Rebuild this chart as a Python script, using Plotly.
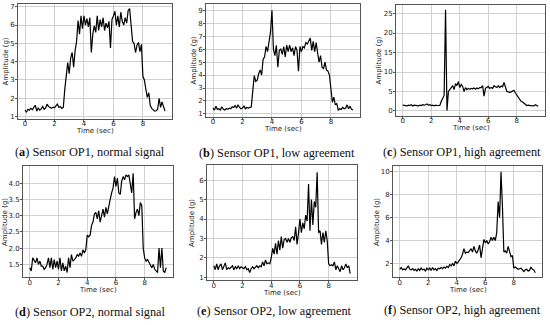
import numpy as np
import plotly.graph_objects as go

time_sec = np.round(np.arange(96) * 0.1, 1)

op1_normal = [1.35, 1.25, 1.40, 1.35, 1.45, 1.38, 1.50, 1.62, 1.30, 1.48,
              1.35, 1.42, 1.55, 1.40, 1.48, 1.68, 1.55, 1.50, 1.45, 1.52,
              1.48, 1.58, 1.68, 1.50, 1.55, 1.45, 1.50, 2.50, 3.30, 3.95,
              3.35, 4.20, 4.50, 3.70, 4.60, 5.10, 6.25, 5.50, 6.50, 5.80,
              6.50, 6.00, 6.35, 5.90, 6.40, 4.50, 5.50, 5.95, 5.60, 6.50,
              5.70, 6.30, 5.90, 6.40, 5.70, 6.10, 5.85, 6.20, 4.75, 6.30,
              6.50, 6.75, 6.00, 6.50, 5.90, 6.70, 6.20, 6.00, 6.40, 6.10,
              6.80, 6.90, 6.00, 5.10, 5.00, 4.50, 4.90, 5.05, 4.55, 4.95,
              3.20, 3.00, 2.50, 2.05, 2.30, 1.60, 1.45, 1.35, 1.30, 1.32,
              1.40, 2.00, 1.50, 1.80, 1.50, 1.30]

op1_low = [1.45, 1.30, 1.60, 1.35, 1.40, 1.30, 1.55, 1.35, 1.30, 1.40,
           1.35, 1.45, 1.40, 1.55, 1.50, 1.65, 1.45, 1.70, 1.50, 1.40,
           1.45, 1.60, 1.40, 1.50, 1.45, 1.50, 1.55, 2.80, 3.95, 3.50,
           3.60, 4.10, 4.40, 4.00, 5.20, 5.40, 6.20, 5.80, 6.80, 7.30,
           9.00, 6.00, 5.50, 6.30, 4.60, 5.90, 6.00, 5.60, 6.20, 5.40,
           6.30, 5.80, 6.30, 5.80, 6.10, 5.50, 6.20, 5.90, 4.30, 6.20,
           5.80, 6.20, 6.10, 6.50, 6.40, 6.60, 6.85, 5.90, 6.60, 5.80,
           6.50, 5.70, 5.00, 5.50, 4.60, 4.50, 5.00, 4.40, 4.30, 4.00,
           3.00, 1.90, 2.30, 1.70, 1.80, 1.30, 1.40, 1.35, 1.50, 1.40,
           1.45, 1.70, 1.40, 1.60, 1.35, 1.30]

op1_high = [1.5, 1.4, 1.5, 1.3, 1.5, 1.4, 1.6, 1.3, 1.5, 1.4,
            1.5, 1.3, 1.5, 1.4, 1.6, 1.5, 1.6, 1.8, 1.5, 1.6,
            1.4, 1.5, 1.3, 1.5, 1.4, 1.5, 1.4, 2.5, 3.5, 4.0,
            26.0, 0.1, 5.0, 5.5, 6.0, 6.5, 5.5, 7.0, 6.5, 7.5,
            6.0, 6.8, 6.3, 5.0, 6.0, 5.5, 5.8, 5.6, 5.8, 5.7,
            5.9, 5.6, 5.9, 5.7, 6.0, 6.0, 6.5, 3.8, 5.8, 6.0,
            6.3, 5.8, 6.0, 5.8, 6.5, 6.2, 6.0, 6.5, 6.0, 6.4,
            6.2, 7.3, 6.0, 5.0, 4.9, 4.8, 4.9, 5.0, 5.3, 4.6,
            4.0, 3.5, 3.0, 2.5, 2.3, 2.0, 1.5, 1.4, 1.5, 1.3,
            1.3, 1.4, 1.3, 1.6, 1.3, 1.2]

op2_normal = [1.40, 1.30, 1.70, 1.60, 1.55, 1.70, 1.50, 1.60, 1.45, 1.45,
              1.35, 1.40, 1.50, 1.70, 1.40, 1.70, 1.35, 1.65, 1.40, 1.60,
              1.35, 1.70, 1.30, 1.55, 1.30, 1.45, 1.25, 1.70, 1.40, 1.80,
              1.60, 1.65, 1.70, 1.80, 1.75, 1.85, 1.75, 1.95, 1.85, 1.95,
              2.40, 2.35, 2.40, 2.70, 2.80, 3.05, 3.10, 2.90, 3.15, 2.80,
              3.05, 3.20, 2.95, 3.25, 3.05, 3.35, 3.50, 3.70, 3.85, 4.20,
              3.90, 4.15, 3.70, 3.65, 4.05, 4.20, 4.10, 4.25, 4.20, 4.25,
              3.90, 3.70, 4.30, 2.90, 3.10, 3.20, 3.00, 3.40, 3.30, 2.00,
              1.70, 1.60, 1.65, 1.55, 1.50, 1.40, 1.50, 1.35, 1.30, 1.25,
              2.00, 1.40, 2.00, 1.30, 1.25, 1.40]

op2_low = [1.60, 1.40, 1.70, 1.40, 1.60, 1.70, 1.40, 1.55, 1.75, 1.40,
           1.50, 1.45, 1.55, 1.60, 1.40, 1.55, 1.45, 1.60, 1.45, 1.55,
           1.50, 1.45, 1.55, 1.40, 1.45, 1.25, 1.45, 1.55, 1.45, 1.55,
           1.60, 1.50, 1.60, 1.55, 1.80, 1.60, 1.90, 1.70, 1.75, 1.70,
           2.00, 2.50, 2.20, 2.75, 2.20, 2.90, 2.40, 3.10, 2.50, 2.95,
           3.00, 2.80, 3.00, 2.80, 3.05, 3.10, 2.90, 3.60, 2.70, 3.30,
           4.00, 3.30, 3.80, 3.50, 4.20, 3.90, 5.80, 3.40, 5.00, 3.70,
           4.90, 4.60, 6.40, 3.30, 3.40, 2.70, 3.30, 2.80, 3.40, 2.90,
           1.70, 1.60, 1.65, 1.60, 1.80, 1.40, 1.60, 1.45, 1.30, 1.60,
           1.40, 1.50, 1.70, 1.50, 1.60, 1.20]

op2_high = [1.50, 1.65, 1.45, 1.55, 1.45, 1.60, 1.80, 1.50, 1.45, 1.55,
            1.40, 1.50, 1.35, 1.55, 1.40, 1.60, 1.45, 1.50, 1.35, 1.60,
            1.45, 1.60, 1.40, 1.65, 1.45, 1.55, 1.40, 1.60, 1.55, 1.65,
            1.55, 1.70, 1.60, 1.75, 1.65, 1.90, 1.80, 2.00, 1.80, 2.20,
            2.00, 2.15, 2.30, 2.50, 2.80, 3.30, 2.90, 3.00, 2.95, 3.10,
            3.30, 3.00, 3.50, 3.10, 2.90, 3.20, 3.60, 2.50, 3.40, 4.10,
            3.80, 4.00, 3.70, 3.90, 4.30, 4.00, 4.30, 4.00, 4.70, 7.40,
            6.00, 10.0, 7.00, 3.00, 3.10, 2.90, 3.50, 3.10, 2.60, 2.70,
            1.60, 1.70, 1.60, 1.50, 1.55, 1.60, 1.45, 1.30, 1.45, 1.50,
            1.35, 1.40, 1.70, 1.50, 1.45, 1.20]

captions = ["(<b>a</b>) Sensor OP1, normal signal",
            "(<b>b</b>) Sensor OP1, low agreement",
            "(<b>c</b>) Sensor OP1, high agreement",
            "(<b>d</b>) Sensor OP2, normal signal",
            "(<b>e</b>) Sensor OP2, low agreement",
            "(<b>f</b>) Sensor OP2, high agreement"]

series = [op1_normal, op1_low, op1_high, op2_normal, op2_low, op2_high]

W, H = 550, 325
# pixel boxes (left, right, top, bottom)
boxes = [(18, 172, 3, 119), (206, 360, 3, 117), (396, 545, 4, 116),
         (23, 173, 167, 279), (207, 357, 166, 282), (393, 542, 167, 279)]
yranges = [(0.875, 7.15), (0.77, 9.48), (-1.27, 27.2),
           (1.10, 4.51), (0.85, 6.75), (0.79, 10.46)]
yticks = [[1, 2, 3, 4, 5, 6, 7], [1, 2, 3, 4, 5, 6, 7, 8, 9], [0, 5, 10, 15, 20, 25],
          [1.5, 2.0, 2.5, 3.0, 3.5, 4.0], [1, 2, 3, 4, 5, 6], [2, 4, 6, 8, 10]]
ytickfmt = ["d", "d", "d", ".1f", "d", "d"]
cap_pos = [(90, 152), (277, 153), (462, 152), (90, 314), (274, 313), (462, 312)]
ytitle_x = [6, 194, 379, 5, 192, 377]

fig = go.Figure()
tickfont = dict(family="DejaVu Sans", size=7, color="#222")
axfont = dict(family="DejaVu Sans", size=7, color="#222")
annotations = []
for i, (ys, box) in enumerate(zip(series, boxes)):
    n = "" if i == 0 else str(i + 1)
    fig.add_trace(go.Scatter(x=time_sec, y=ys, mode="lines",
                             line=dict(color="black", width=1.2),
                             xaxis="x" + n, yaxis="y" + n, showlegend=False))
    l, r, t, b = box
    common = dict(showline=True, linecolor="#555", linewidth=1, mirror=True,
                  showgrid=True, gridcolor="#d0d0d0", gridwidth=1,
                  ticks="outside", ticklen=2, tickcolor="#555",
                  tickfont=tickfont, zeroline=False)
    fig.layout["xaxis" + n] = dict(domain=[l / W, r / W], anchor="y" + n,
                                   range=[-0.475, 9.975], tickvals=[0, 2, 4, 6, 8],
                                   ticklabelstandoff=-4, **common)
    fig.layout["yaxis" + n] = dict(domain=[1 - b / H, 1 - t / H], anchor="x" + n,
                                   range=list(yranges[i]), tickvals=yticks[i],
                                   tickformat=ytickfmt[i], ticklabelstandoff=-1, **common)
    annotations.append(dict(text="Time (sec)", x=(l + r) / 2 / W, y=1 - (b + 12.5) / H,
                            xref="paper", yref="paper", showarrow=False,
                            xanchor="center", yanchor="middle", font=axfont))
    annotations.append(dict(text="Amplitude (g)", x=ytitle_x[i] / W, y=1 - (t + b) / 2 / H,
                            xref="paper", yref="paper", showarrow=False, textangle=-90,
                            xanchor="center", yanchor="middle", font=axfont))
    cx, cy = cap_pos[i]
    annotations.append(dict(text=captions[i], x=cx / W, y=1 - cy / H, xref="paper", yref="paper",
                            showarrow=False, xanchor="center", yanchor="middle",
                            font=dict(family="Liberation Serif", size=12.3, color="#111")))

fig.update_layout(width=W, height=H, margin=dict(l=0, r=0, t=0, b=0),
                  paper_bgcolor="white", plot_bgcolor="white",
                  annotations=annotations)
fig.write_html("out.html", config={"displayModeBar": False},
               post_script="document.body.style.margin='0';document.body.style.padding='0';")
